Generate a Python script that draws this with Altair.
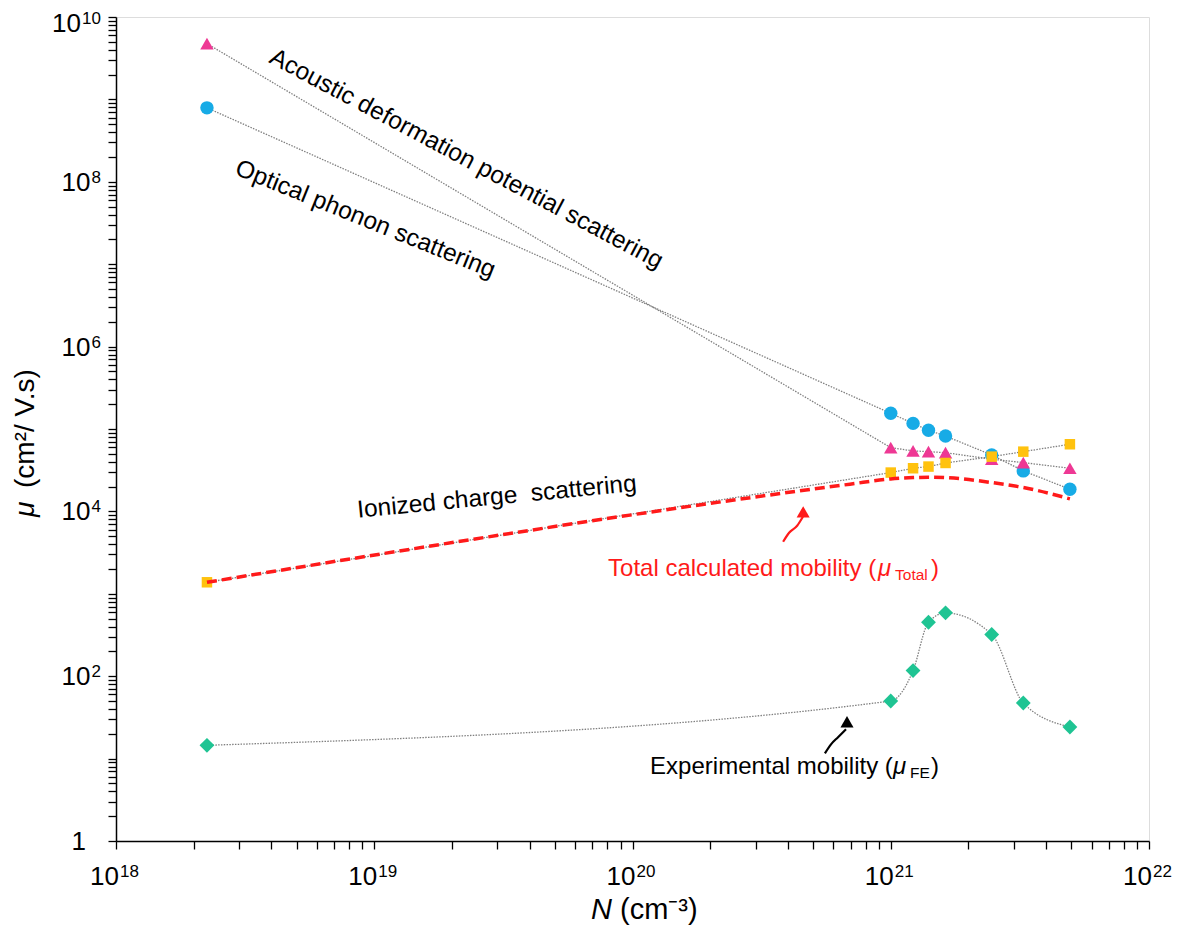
import altair as alt
import pandas as pd

FONT = "Liberation Sans"

# ---------------- data ----------------
N = [2.25e18, 1.0e21, 1.22e21, 1.40e21, 1.63e21, 2.46e21, 3.26e21, 4.94e21]
mu_acoustic = [4.75e9, 5.94e4, 5.42e4, 5.31e4, 5.16e4, 4.30e4, 3.91e4, 3.34e4]
mu_optical = [7.9e8, 1.55e5, 1.17e5, 9.64e4, 8.22e4, 4.84e4, 3.10e4, 1.86e4]
mu_ionized = [1.38e3, 2.96e4, 3.34e4, 3.50e4, 3.87e4, 4.62e4, 5.31e4, 6.53e4]
mu_exp = [14.5, 50, 117, 452, 587, 321, 47.3, 24.2]

N_total = [2.25e18, 6.95e20, 1.0e21, 1.22e21, 1.40e21, 1.63e21, 2.46e21, 3.26e21, 4.94e21]
mu_total = [1.38e3, 2.14e4, 2.48e4, 2.57e4, 2.60e4, 2.57e4, 2.24e4, 1.95e4, 1.42e4]

# annotation arrows (data coordinates)
red_arrow_N = [3.83e20, 4.04e20, 4.34e20, 4.57e20]
red_arrow_mu = [4285, 5508, 6695, 8600]
red_head = (4.58e20, 9886)
blk_arrow_N = [5.56e20, 5.87e20, 6.25e20, 6.71e20]
blk_arrow_mu = [11.6, 14.9, 18.2, 22.7]
blk_head = (6.77e20, 28.0)

# tick labels: (value, base, exponent)
x_tick_labels = [(1e18, "10", "18"), (1e19, "10", "19"), (1e20, "10", "20"),
                 (1e21, "10", "21"), (1e22, "10", "22")]
y_tick_labels = [(1.0, "1", ""), (1e2, "10", "2"), (1e4, "10", "4"), (1e6, "10", "6"),
                 (1e8, "10", "8"), (1e10, "10", "10")]

x_ticks = [float(k * 10 ** e) for e in range(18, 22) for k in range(1, 10)] + [1e22]
y_ticks = [float(k * 10 ** e) for e in range(0, 10) for k in range(1, 10)] + [1e10]

C_TRI = "#EE3894"
C_CIR = "#17ABE6"
C_SQ = "#FFC20E"
C_DIA = "#1FC493"
C_RED = "#FF1A1A"
C_GRAY = "#808080"

xaxis = alt.Axis(values=x_ticks, labels=False, tickSize=8, domainColor="black",
                 domainWidth=1.5, tickColor="black", tickWidth=1.3, grid=False)
yaxis = alt.Axis(values=y_ticks, labels=False, tickSize=8, domainColor="black",
                 domainWidth=1.5, tickColor="black", tickWidth=1.3, grid=False)

xscale = alt.Scale(type="log", domain=[1e18, 1e22], nice=False)
yscale = alt.Scale(type="log", domain=[1, 1e10], nice=False)


def X():
    return alt.X("N:Q", scale=xscale, axis=xaxis, title=None)


def Y():
    return alt.Y("mu:Q", scale=yscale, axis=yaxis, title=None)


def df(ns, mus):
    return pd.DataFrame({"N": ns, "mu": mus})


def gray_line(mus, interp="linear"):
    return alt.Chart(df(N, mus)).mark_line(color=C_GRAY, strokeWidth=1.3, strokeDash=[1.5, 1.3],
                                           interpolate=interp).encode(x=X(), y=Y())


lines = [
    gray_line(mu_acoustic),
    gray_line(mu_optical),
    gray_line(mu_ionized),
    gray_line(mu_exp, "monotone"),
]

circles = alt.Chart(df(N, mu_optical)).mark_point(shape="circle", filled=True, opacity=1,
                                                  size=180, color=C_CIR).encode(x=X(), y=Y())
tris = alt.Chart(df(N, mu_acoustic)).mark_point(shape="triangle-up", filled=True, opacity=1,
                                                size=180, color=C_TRI).encode(x=X(), y=Y())
squares = alt.Chart(df(N, mu_ionized)).mark_point(shape="square", filled=True, opacity=1,
                                                  size=110, color=C_SQ).encode(x=X(), y=Y())
diamonds = alt.Chart(df(N, mu_exp)).mark_point(shape="diamond", filled=True, opacity=1,
                                               size=220, color=C_DIA).encode(x=X(), y=Y())

total = alt.Chart(df(N_total, mu_total)).mark_line(color=C_RED, strokeWidth=3.5, strokeDash=[10, 5],
                                                   interpolate="monotone").encode(x=X(), y=Y())

red_arrow = alt.Chart(df(red_arrow_N, red_arrow_mu)).mark_line(color=C_RED, strokeWidth=2.2,
                                                              interpolate="monotone").encode(x=X(), y=Y())
red_tip = alt.Chart(df([red_head[0]], [red_head[1]])).mark_point(shape="triangle-up", filled=True,
                                                                opacity=1, size=170, color=C_RED).encode(x=X(), y=Y())
blk_arrow = alt.Chart(df(blk_arrow_N, blk_arrow_mu)).mark_line(color="black", strokeWidth=2.2,
                                                              interpolate="monotone").encode(x=X(), y=Y())
blk_tip = alt.Chart(df([blk_head[0]], [blk_head[1]])).mark_point(shape="triangle-up", filled=True,
                                                                opacity=1, size=170, color="black").encode(x=X(), y=Y())


def label(text, n, mu, angle=0, color="black", size=24, style="normal", dx=0, dy=0):
    return alt.Chart(pd.DataFrame({"N": [n], "mu": [mu], "t": [text]})).mark_text(
        align="left", baseline="alphabetic", angle=angle, color=color, fontSize=size,
        font=FONT, fontStyle=style, dx=dx, dy=dy).encode(x=X(), y=Y(), text="t:N")


ann = [
    label("Acoustic deformation potential scattering", 3.88e18, 2.85e9, angle=28, size=24.5),
    label("Optical phonon scattering", 2.86e18, 1.24e8, angle=22, size=24.5),
    label("Ionized charge\u00a0 scattering", 8.65e18, 8.37e3, angle=354.5, size=24.5),
    label("Total calculated mobility (", 8.04e19, 1660, color=C_RED),
    label("μ", 8.04e19, 1660, color=C_RED, style="italic", dx=270),
    label("Total", 8.04e19, 1660, color=C_RED, size=15.5, dx=287, dy=4),
    label(")", 8.04e19, 1660, color=C_RED, dx=323),
    label("Experimental mobility (", 1.17e20, 6.47),
    label("μ", 1.17e20, 6.47, style="italic", dx=243),
    label("FE", 1.17e20, 6.47, size=15.5, dx=260, dy=4),
    label(")", 1.17e20, 6.47, dx=281),
]

# ---------------- tick labels with real superscripts ----------------
tick_layers = []
for v, base, ex in x_tick_labels:
    d = df([v], [1.0])
    tick_layers.append(alt.Chart(d).mark_text(text=base, align="right", baseline="alphabetic",
                                              fontSize=26, font=FONT, color="black", dx=3)
                       .encode(x=X(), y=alt.value(868)))
    tick_layers.append(alt.Chart(d).mark_text(text=ex, align="left", baseline="alphabetic",
                                              fontSize=17, font=FONT, color="black", dx=4)
                       .encode(x=X(), y=alt.value(860)))

for v, base, ex in y_tick_labels:
    d = df([1e18], [v])
    shift = 6 if v == 1e10 else 0
    base_right = -15 - 9.5 * len(ex) - 1 if ex else -30
    tick_layers.append(alt.Chart(d).mark_text(text=base, align="right", baseline="alphabetic",
                                              fontSize=26, font=FONT, color="black", dy=9 + shift)
                       .encode(x=alt.value(base_right), y=Y()))
    if ex:
        tick_layers.append(alt.Chart(d).mark_text(text=ex, align="right", baseline="alphabetic",
                                                  fontSize=17, font=FONT, color="black", dy=1 + shift)
                           .encode(x=alt.value(-15), y=Y()))


def title_text(text, x, y, angle=0, style="normal", size=29):
    return alt.Chart(alt.Data(values=[{}])).mark_text(
        text=text, align="left", baseline="alphabetic", angle=angle, fontSize=size, font=FONT,
        fontStyle=style, color="black").encode(x=alt.value(x), y=alt.value(y))


titles = [
    title_text("N", 475, 902, style="italic"),
    title_text("(cm⁻³)", 504, 902),
    title_text("μ", -82, 500, angle=270, style="italic", size=28),
    title_text("(cm²/ V.s)", -82, 471, angle=270, size=28),
]

chart = alt.layer(*lines, circles, tris, squares, diamonds, total, red_arrow, red_tip,
                  blk_arrow, blk_tip, *ann, *tick_layers, *titles).properties(
    width=1033, height=824,
    autosize=alt.AutoSizeParams(type="none"),
    padding={"left": 108, "top": 9, "right": 33, "bottom": 85},
).configure_view(stroke="black", strokeWidth=1.5).configure(background="white")

chart.save("out.html", embed_options={"renderer": "svg", "actions": False})
